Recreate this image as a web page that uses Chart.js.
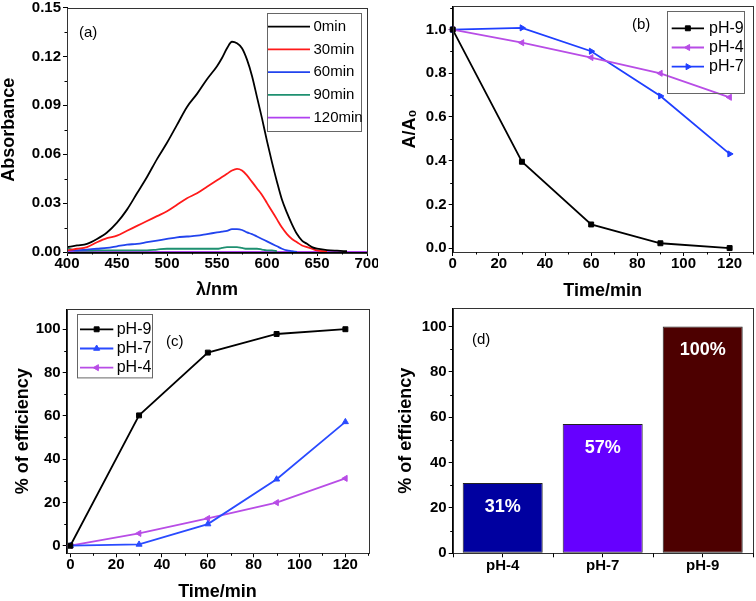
<!DOCTYPE html>
<html>
<head>
<meta charset="utf-8">
<script src="https://cdn.jsdelivr.net/npm/chart.js@4.4.1/dist/chart.umd.min.js"></script>
<style>
  html, body { margin: 0; padding: 0; background: #fff; }
  #wrap { position: relative; width: 756px; height: 601px; }
  #wrap canvas { position: absolute; }
</style>
</head>
<body>
<div id="wrap">
  <canvas id="chartA" width="378" height="300" style="left:0;top:0"></canvas>
  <canvas id="chartB" width="378" height="300" style="left:378px;top:0"></canvas>
  <canvas id="chartC" width="378" height="301" style="left:0;top:300px"></canvas>
  <canvas id="chartD" width="378" height="301" style="left:378px;top:300px"></canvas>
</div>
<script>
const FONT = '"Liberation Sans", Arial, sans-serif';

// (a) absorbance spectra
const wavelength = [400,410,420,430,440,450,460,470,480,490,500,510,520,530,540,550,
  555,560,565,570,575,580,585,590,595,600,605,610,615,620,625,630,635,640,645,650,
  660,670,680,690,700];
const abs0min = [0.003,0.004,0.005,0.008,0.012,0.018,0.026,0.036,0.046,0.057,0.067,0.078,0.089,0.097,0.106,0.114,
  0.119,0.125,0.129,0.128,0.125,0.118,0.108,0.095,0.082,0.068,0.055,0.043,0.032,0.024,0.017,0.011,0.007,0.005,0.003,0.002,
  0.0012,0.0008,0.0005,null,null];
const abs30min = [0.001,0.002,0.003,0.006,0.0085,0.010,0.013,0.016,0.019,0.022,0.025,0.029,0.033,0.036,0.040,0.044,
  0.046,0.048,0.050,0.051,0.050,0.047,0.043,0.039,0.035,0.030,0.025,0.020,0.015,0.011,0.008,0.006,0.004,0.003,0.002,0.001,
  0.0003,null,null,null,null];
const abs60min = [0.001,0.001,0.0015,0.002,0.0025,0.0035,0.0045,0.005,0.006,0.007,0.008,0.009,0.0095,0.010,0.011,0.012,
  0.0125,0.013,0.014,0.014,0.0135,0.012,0.011,0.0095,0.008,0.0065,0.005,0.0035,0.002,0.001,0.0005,0,null,null,null,null,
  null,null,null,null,null];
const abs90min = [0.0025,0.0008,0.0008,0.001,0.001,0.001,0.001,0.001,0.001,0.0015,0.002,0.002,0.002,0.002,0.002,0.002,
  0.0025,0.003,0.003,0.003,0.0025,0.002,0.002,0.002,0.0015,0.001,0.001,0.0005,null,null,null,null,null,null,null,null,
  null,null,null,null,null];
const abs120min = [0,0,0,0,0,0,0,0,0,0,0,0,0,0,0,0,
  0,0,0,0,0,0,0,0,0,0,0,0,0,0,0,0,0,0,0,0,
  0,0,0,0,0];
const spectraLabels = ['0min', '30min', '60min', '90min', '120min'];
const spectraColors = ['#000000', '#ff1a1a', '#2244ee', '#1e9070', '#b040f0'];
const xTicksA = [400, 450, 500, 550, 600, 650, 700];
const yTicksA = [0, 0.03, 0.06, 0.09, 0.12, 0.15];

// (b) A/A0 vs time
const timeMin = [0, 30, 60, 90, 120];
const ratioPH9 = [1.0, 0.395, 0.108, 0.022, 0.0];
const ratioPH4 = [1.0, 0.940, 0.872, 0.800, 0.690];
const ratioPH7 = [1.0, 1.008, 0.901, 0.696, 0.431];
const xTicksTime = [0, 20, 40, 60, 80, 100, 120];
const yTicksB = [0, 0.2, 0.4, 0.6, 0.8, 1.0];

// (c) efficiency vs time
const effPH9 = [0, 60.2, 89.2, 97.8, 100];
const effPH7 = [0, 0.6, 10.0, 30.7, 57.2];
const effPH4 = [0, 5.7, 12.6, 19.9, 31.1];
const yTicksEff = [0, 20, 40, 60, 80, 100];

// (d) final efficiency
const phLabels = ['pH-4', 'pH-7', 'pH-9'];
const finalEff = [31, 57, 100];
const barColors = ['#0000a0', '#6600ff', '#4d0000'];

const pairs = (xs, ys) => xs.map((x, i) => ({ x: x, y: ys[i] }));

Chart.defaults.font.family = FONT;
Chart.defaults.color = '#000';
Chart.defaults.animation = false;

// frame round the plot + small minor ticks
const frameMinor = {
  id: 'frameMinor',
  afterDraw(chart) {
    const ctx = chart.ctx, a = chart.chartArea;
    ctx.save();
    ctx.lineWidth = 1;
    ctx.strokeStyle = '#333';
    ctx.strokeRect(Math.round(a.left) + 0.5, Math.round(a.top) + 0.5,
      Math.round(a.right - a.left), Math.round(a.bottom - a.top));
    ctx.strokeStyle = '#000';
    Object.values(chart.scales).forEach(s => {
      let vals = [], len = 2.5;
      if (s.type === 'category') {
        for (let i = 0; i <= s.ticks.length; i++) vals.push(i - 0.5);
        len = 4;
      } else {
        const t = s.ticks.map(k => k.value);
        const step = t[1] - t[0];
        for (let v = t[0] - step / 2; v <= s.max + 1e-9; v += step) {
          if (v >= s.min - 1e-9) vals.push(v);
        }
      }
      vals.forEach(v => {
        const p = Math.round(s.getPixelForValue(v)) + 0.5;
        ctx.beginPath();
        if (s.isHorizontal()) { ctx.moveTo(p, a.bottom); ctx.lineTo(p, a.bottom + len); }
        else { ctx.moveTo(a.left, p); ctx.lineTo(a.left - len, p); }
        ctx.stroke();
      });
    });
    ctx.restore();
  }
};

// boxed legend, like the original figure
const boxLegend = {
  id: 'boxLegend',
  afterDraw(chart, args, o) {
    if (!o || o.left === undefined) return;
    const ctx = chart.ctx;
    ctx.save();
    ctx.strokeStyle = '#666';
    ctx.lineWidth = 1;
    ctx.strokeRect(Math.round(o.left) + 0.5, Math.round(o.top) + 0.5, o.width, o.height);
    ctx.font = o.fontSize + 'px ' + FONT;
    ctx.textBaseline = 'middle';
    ctx.textAlign = 'left';
    chart.data.datasets.forEach((ds, i) => {
      const y = o.row + i * o.gap;
      ctx.strokeStyle = ds.borderColor;
      ctx.lineWidth = ds.borderWidth;
      ctx.beginPath();
      ctx.moveTo(o.sx, y);
      ctx.lineTo(o.sx + o.sw, y);
      ctx.stroke();
      if (ds.pointRadius > 0) {
        ctx.fillStyle = ds.pointBackgroundColor;
        ctx.strokeStyle = ds.pointBorderColor;
        ctx.lineWidth = 1;
        Chart.helpers.drawPoint(ctx, { pointStyle: ds.pointStyle, rotation: ds.pointRotation || 0,
          radius: ds.pointRadius, borderWidth: 1 }, o.sx + o.sw / 2, y);
      }
      ctx.fillStyle = '#000';
      ctx.fillText(ds.label, o.tx, y);
    });
    ctx.restore();
  }
};

// (a) (b) (c) (d) tags
const panelTag = {
  id: 'panelTag',
  afterDraw(chart, args, o) {
    if (!o || !o.text) return;
    const ctx = chart.ctx;
    ctx.save();
    ctx.font = '15px ' + FONT;
    ctx.fillStyle = '#000';
    ctx.textAlign = 'left';
    ctx.textBaseline = 'middle';
    ctx.fillText(o.text, chart.chartArea.left + o.dx, chart.chartArea.top + o.dy);
    ctx.restore();
  }
};

// percentage inside the bars
const barText = {
  id: 'barText',
  afterDatasetsDraw(chart, args, o) {
    if (!o || !o.show) return;
    const ctx = chart.ctx;
    const ds = chart.data.datasets[0];
    ctx.save();
    ctx.font = 'bold 18px ' + FONT;
    ctx.fillStyle = '#fff';
    ctx.textAlign = 'center';
    ctx.textBaseline = 'middle';
    chart.getDatasetMeta(0).data.forEach((bar, i) => {
      ctx.fillText(ds.data[i] + '%', bar.x, bar.y + o.dy);
    });
    ctx.restore();
  }
};

Chart.register(frameMinor, boxLegend, panelTag, barText);

const tickFont = { size: 15, weight: 'bold', lineHeight: 1 };
const titleFont = { size: 18, weight: 'bold', lineHeight: 1 };
const gridTicks = { display: true, drawOnChartArea: false, drawTicks: true, tickLength: 4,
  tickColor: '#000', tickWidth: 1, lineWidth: 1 };

function xAxis(min, max, tickVals, height, title, titlePad, labelPad, fmt) {
  return {
    type: 'linear', position: 'bottom', min: min, max: max,
    afterBuildTicks: s => { s.ticks = tickVals.map(v => ({ value: v })); },
    ticks: { font: tickFont, padding: labelPad, maxRotation: 0, autoSkip: false,
      callback: v => fmt ? fmt(v) : String(v) },
    grid: gridTicks,
    border: { display: true, color: '#000', width: 1 },
    title: { display: !!title, text: title, font: titleFont, padding: { top: 0, bottom: titlePad } },
    afterFit: s => { s.height = height; s.paddingLeft = 0; s.paddingRight = 0; }
  };
}

function yAxis(min, max, tickVals, width, title, titlePad, fmt) {
  return {
    type: 'linear', position: 'left', min: min, max: max,
    afterBuildTicks: s => { s.ticks = tickVals.map(v => ({ value: v })); },
    ticks: { font: tickFont, padding: 2, autoSkip: false,
      callback: v => fmt ? fmt(v) : String(v) },
    grid: gridTicks,
    border: { display: true, color: '#000', width: 1 },
    title: { display: true, text: title, font: titleFont, padding: { top: titlePad, bottom: 0 } },
    afterFit: s => { s.width = width; s.paddingTop = 0; s.paddingBottom = 0; }
  };
}

function lineSet(label, xs, ys, color, style, rot) {
  return {
    label: label, data: pairs(xs, ys), borderColor: color, backgroundColor: color,
    borderWidth: 1.8, pointStyle: style, pointRotation: rot || 0, pointRadius: 3.5,
    pointBackgroundColor: color, pointBorderColor: color, pointBorderWidth: 1,
    tension: 0, clip: 8
  };
}

// ---- (a)
const spectra = [abs0min, abs30min, abs60min, abs90min, abs120min];
new Chart(document.getElementById('chartA'), {
  type: 'line',
  data: {
    datasets: spectra.map((ys, i) => ({
      label: spectraLabels[i], data: pairs(wavelength, ys),
      borderColor: spectraColors[i], borderWidth: 1.8, pointRadius: 0,
      cubicInterpolationMode: 'monotone', spanGaps: false
    }))
  },
  options: {
    responsive: false,
    layout: { autoPadding: false, padding: { left: 0, top: 7.5, right: 11, bottom: 0 } },
    plugins: {
      legend: { display: false }, tooltip: { enabled: false },
      boxLegend: { left: 267, top: 13, width: 94, height: 118, row: 26.7, gap: 22.75,
        sx: 268, sw: 42, tx: 313.5, fontSize: 15 },
      panelTag: { text: '(a)', dx: 12, dy: 25.5 }
    },
    scales: {
      x: xAxis(400, 700, xTicksA, 48, 'λ/nm', 1, 0),
      y: yAxis(0, 0.15, yTicksA, 67, 'Absorbance', 0, v => v.toFixed(2))
    }
  }
});

// ---- (b)
new Chart(document.getElementById('chartB'), {
  type: 'line',
  data: {
    datasets: [
      lineSet('pH-9', timeMin, ratioPH9, '#000000', 'rect'),
      lineSet('pH-4', timeMin, ratioPH4, '#b84de6', 'triangle', -90),
      lineSet('pH-7', timeMin, ratioPH7, '#1f3fff', 'triangle', 90)
    ]
  },
  options: {
    responsive: false,
    layout: { autoPadding: false, padding: { left: 0, top: 6, right: 3.3, bottom: 0 } },
    plugins: {
      legend: { display: false }, tooltip: { enabled: false },
      boxLegend: { left: 289.3, top: 10.7, width: 77, height: 82, row: 28.3, gap: 19.2,
        sx: 293.7, sw: 32.3, tx: 331, fontSize: 16 },
      panelTag: { text: '(b)', dx: 179.3, dy: 19 }
    },
    scales: {
      x: xAxis(0, 130, xTicksTime, 48, 'Time/min', 0, 0),
      y: yAxis(-0.018, 1.108, yTicksB, 74.7, 'A/A₀', 23, v => v.toFixed(1))
    }
  }
});

// ---- (c)
new Chart(document.getElementById('chartC'), {
  type: 'line',
  data: {
    datasets: [
      lineSet('pH-9', timeMin, effPH9, '#000000', 'rect'),
      lineSet('pH-7', timeMin, effPH7, '#2a4bff', 'triangle', 0),
      lineSet('pH-4', timeMin, effPH4, '#b84de6', 'triangle', -90)
    ]
  },
  options: {
    responsive: false,
    layout: { autoPadding: false, padding: { left: 0, top: 9.3, right: 9.7, bottom: 0 } },
    plugins: {
      legend: { display: false }, tooltip: { enabled: false },
      boxLegend: { left: 76.7, top: 14.3, width: 75, height: 63.4, row: 29.3, gap: 19.2,
        sx: 80, sw: 33.3, tx: 116.7, fontSize: 16 },
      panelTag: { text: '(c)', dx: 99.3, dy: 32.7 }
    },
    scales: {
      x: xAxis(-1.57, 130, xTicksTime, 47.7, 'Time/min', 0.3, 0),
      y: yAxis(-3.5, 109.2, yTicksEff, 66.7, '% of efficiency', 14.3)
    }
  }
});

// ---- (d)
new Chart(document.getElementById('chartD'), {
  type: 'bar',
  data: {
    labels: phLabels,
    datasets: [{
      label: '% of efficiency', data: finalEff, backgroundColor: barColors,
      borderColor: '#222', borderWidth: 1, borderSkipped: false,
      barPercentage: 0.8, categoryPercentage: 1.0
    }]
  },
  options: {
    responsive: false,
    layout: { autoPadding: false, padding: { left: 0, top: 8.3, right: 3.3, bottom: 0 } },
    plugins: {
      legend: { display: false }, tooltip: { enabled: false },
      panelTag: { text: '(d)', dx: 19.3, dy: 31.7 },
      barText: { show: true, dy: 24 }
    },
    scales: {
      x: {
        type: 'category', position: 'bottom', offset: true,
        ticks: { font: tickFont, padding: 1.2, maxRotation: 0, autoSkip: false },
        grid: Object.assign({}, gridTicks, { offset: false }),
        border: { display: true, color: '#000', width: 1 },
        afterFit: s => { s.height = 47.7; s.paddingLeft = 0; s.paddingRight = 0; }
      },
      y: yAxis(0, 108, yTicksEff, 74.7, '% of efficiency', 18.7)
    }
  }
});
</script>
</body>
</html>
